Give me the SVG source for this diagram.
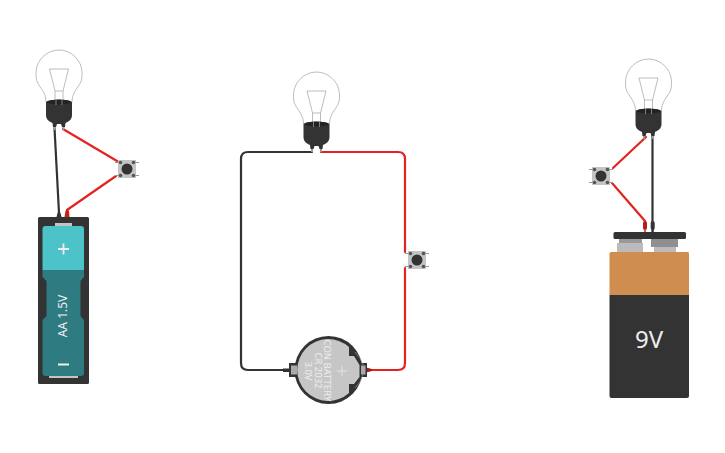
<svg xmlns="http://www.w3.org/2000/svg" width="725" height="453" viewBox="0 0 725 453">
<style>
.w{fill:none;stroke-width:2.2;stroke-linejoin:round;stroke-linecap:round}
.r{stroke:#e2231f}.k{stroke:#333}
.t{font-family:"Noto Sans","DejaVu Sans",sans-serif;fill:#eee;text-anchor:middle}
.g{fill:none;stroke:#a0a0a0;stroke-width:.7}
</style>
<defs>
<g id="bulb">
<path class="g" d="M-13 1C-13-7-17-11-20-16C-23-20-23-24-23-28C-23-41-12-51 0-51C12-51 23-41 23-28C23-24 23-20 20-16C17-11 13-7 13 1"/>
<path class="g" d="M-9.500-32H9.500L4-10V0M-9.500-32L-4-10V0M-4-10H4"/>
<path d="M-13 1C-10-2 10-2 13 1V14C13 19 9 21 6.500 22L6 26H3L2 23H-2L-3 26H-6L-6.500 22C-9 21-13 19-13 14Z" fill="#333"/>
<ellipse cx="0" cy="1" rx="12" ry="2.400" fill="#222"/>
<path d="M-3 -1V4M3 -1V4" stroke="#aaa" stroke-width=".7"/>
<path d="M-5.500 26H-3.500V29H-5.500ZM3.500 26H5.500V29H3.500Z" fill="#999"/>
</g>
<g id="btn">
<path d="M-12-6.500H-8M8-6.500H12M-12 6.500H-8M8 6.500H12" stroke="#999" stroke-width="1.200"/>
<rect x="-9" y="-9" width="18" height="18" fill="#c4c4c4"/>
<circle r="5.500" fill="#333"/>
<g fill="#555"><circle cx="-6.500" cy="-6.500" r="1.800"/><circle cx="6.500" cy="-6.500" r="1.800"/><circle cx="-6.500" cy="6.500" r="1.800"/><circle cx="6.500" cy="6.500" r="1.800"/></g>
</g>
</defs>

<g id="connectors">
<path class="w k" d="M54.500 128L59 213"/>
<path class="w r" d="M63 129L117 161"/>
<path class="w r" d="M67 210L116 176"/>
<path class="w k" d="M312 152H248Q241 152 241 159V363Q241 370 248 370H288"/>
<path class="w r" d="M321 152H398Q405 152 405 159V252"/>
<path class="w r" d="M405 268V363Q405 370 398 370H368"/>
<path class="w r" d="M646 137L613 168"/>
<path class="w r" d="M612 183L645 221"/>
<path class="w k" d="M652.500 135V232"/>
<path d="M56.500 217L57.500 213L59 211L60.500 213L61.500 217Z" fill="#333"/>
<path d="M64.500 217L65.500 211L67 209L69 211L69.500 217Z" fill="#c4201c"/>
<path d="M283 368.500H289V372H283Z" fill="#333"/>
<path d="M366 367.500L372 369V371L366 372.500Z" fill="#a81c18"/>
<rect x="643" y="221" width="4" height="9" rx="2" fill="#b3201c"/>
<rect x="650.700" y="221" width="4" height="9" rx="2" fill="#333"/>
<path class="w r" style="stroke-width:1.500" d="M645 229V233"/>
<path class="w k" style="stroke-width:1.500" d="M652.700 229V233"/>
</g>

<g id="bulb1"><use href="#bulb" x="59" y="101"/></g>
<g id="bulb2"><use href="#bulb" x="316.500" y="123"/></g>
<g id="bulb3"><use href="#bulb" x="648.500" y="110"/></g>
<g id="button1"><use href="#btn" x="127" y="169"/></g>
<g id="button2"><use href="#btn" x="417" y="260"/></g>
<g id="button3"><use href="#btn" x="601" y="176"/></g>

<g id="aa-battery">
<rect x="38" y="217" width="51" height="167" rx="1.500" fill="#333"/>
<rect x="55" y="223" width="17" height="4" fill="#c4c4c4"/>
<rect x="49" y="375.500" width="29" height="2.500" fill="#c4c4c4"/>
<path d="M42.500 270V229Q42.500 226 45.500 226H81Q84 226 84 229V270Z" fill="#4cc3c8"/>
<path d="M42.500 270H84V277L80.500 281V316L84 320V373Q84 376 81 376H45.500Q42.500 376 42.500 373V320L46.500 316V281L42.500 277Z" fill="#2f7b82"/>
<path d="M58 249H69M63.500 243.500V254.500" stroke="#eee" stroke-width="1.800" fill="none"/>
<text class="t" font-size="12" transform="translate(67,316) rotate(-90)">AA 1.5V</text>
<rect x="58" y="363.500" width="11" height="2" fill="#eee"/>
</g>

<g id="coin-battery">
<rect x="289" y="363" width="10" height="14" fill="#333"/>
<rect x="358" y="363" width="9" height="14" fill="#333"/>
<circle cx="328.500" cy="370" r="34" fill="#333"/>
<rect x="291" y="365.500" width="6" height="9" fill="#aaa"/>
<rect x="361" y="365.500" width="4.500" height="9" fill="#aaa"/>
<path d="M349 347A31 31 0 1 0 349 393V384H354L359.500 377V365L354 356H349Z" fill="#c6c6c6"/>
<path d="M355 352Q361 358 363 365M355 388Q361 382 363 375" fill="none" stroke="#999" stroke-width=".7"/>
<g class="t" style="font-size:9.500px">
<text transform="translate(324,370.500) rotate(90)">CON BATTERY</text>
<text transform="translate(315,370.500) rotate(90)">CR 2032</text>
<text transform="translate(305,371) rotate(90)">3.0V</text>
</g>
<path d="M342 366V376M337 371H347" stroke="#eee" stroke-width=".8"/>
</g>

<g id="nine-volt">
<rect x="619" y="238" width="23" height="6" fill="#999"/>
<rect x="617" y="243" width="26" height="10" fill="#bbb"/>
<rect x="651" y="238" width="27" height="9" fill="#8f8f8f"/>
<rect x="654" y="247" width="22" height="6" fill="#bbb"/>
<rect x="613.500" y="232" width="72.500" height="7" rx="1.500" fill="#333"/>
<path d="M611 252H688Q689 252 689 254V295H609.500V254Q609.500 252 611 252Z" fill="#cf8d50"/>
<path d="M609.500 295H689V396Q689 398 687 398H611.500Q609.500 398 609.500 396Z" fill="#333"/>
<text class="t" x="649" y="348" font-size="24">9V</text>
</g>
</svg>
